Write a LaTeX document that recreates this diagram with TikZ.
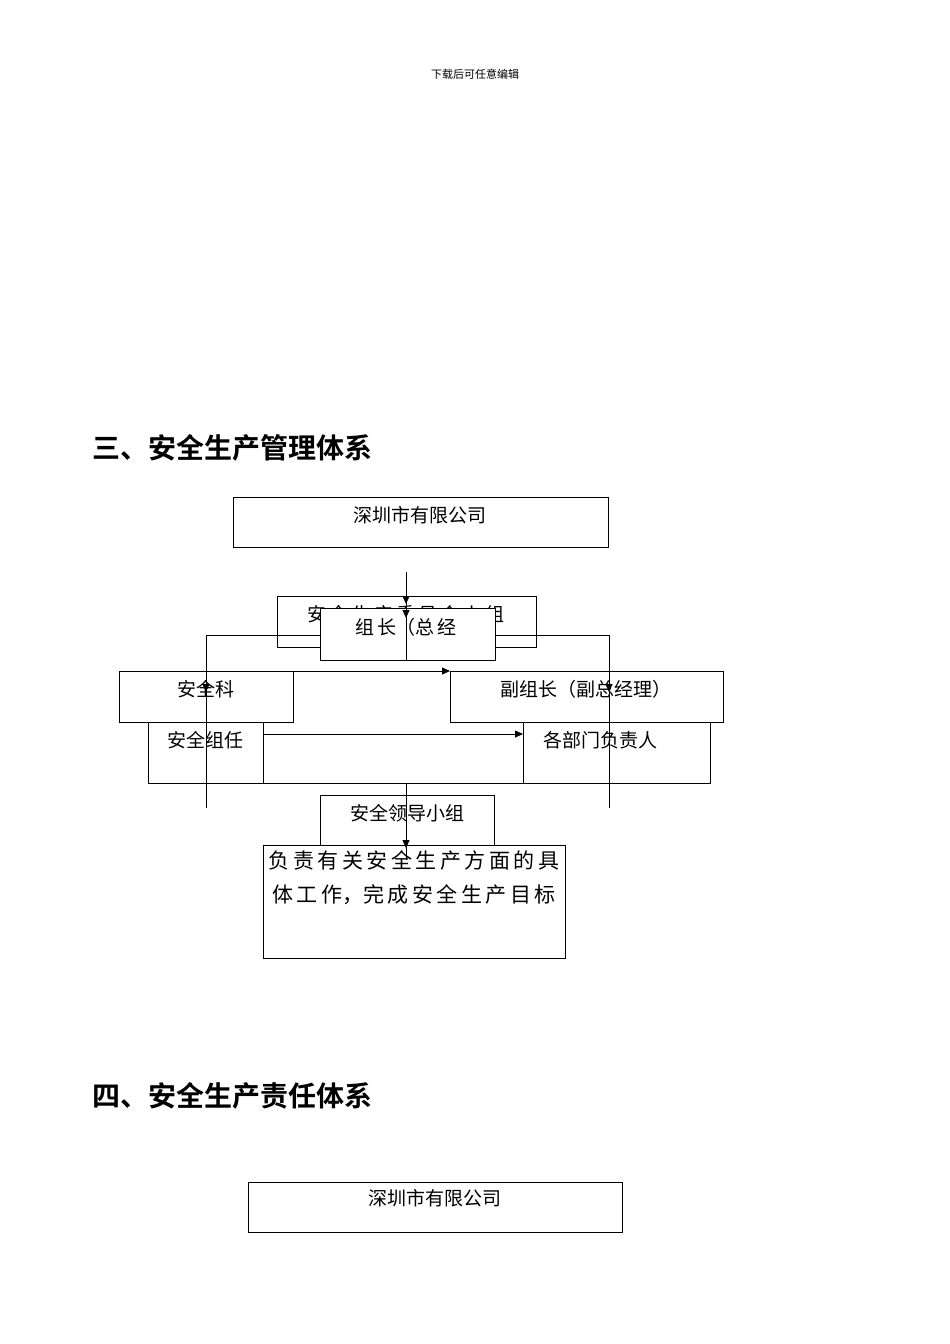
\documentclass[tikz,border=0pt]{standalone}
\usepackage{fontspec}
\setmainfont{Noto Sans CJK SC}
\newfontfamily\cjkb{Noto Sans CJK SC Bold}
\usetikzlibrary{arrows.meta}
\tikzset{x=1pt,y=-1pt,
  box/.style={draw,line width=0.8pt,fill=white,inner sep=0pt,anchor=north west},
  txt/.style={inner sep=0pt,font=\fontsize{19}{22}\selectfont},
  ttl/.style={inner sep=0pt,anchor=west,font=\cjkb\fontsize{28}{32}\selectfont},
  ln/.style={line width=0.8pt},
  arr/.style={line width=0.8pt,-{Triangle[length=8pt,width=7pt]}}}
\newcommand{\bx}[5]{\node[box,minimum width=#4pt-#2pt,minimum height=#5pt-#3pt] (#1) at (#2,#3) {};}
\begin{document}
\begin{tikzpicture}
\useasboundingbox[fill=white] (0,0) rectangle (950,1344);
\node[inner sep=0pt,font=\fontsize{11}{13}\selectfont] (hdr) at (475,74) {下载后可任意编辑};
\node[ttl] (t3) at (92,448) {三、安全生产管理体系};
\bx{company}{233}{497}{608}{547}
\node[txt] (companyt) at (420,515) {深圳市有限公司};
\bx{wyh}{277}{596}{536}{647}
\node[txt] (wyht) at (406,614) {安\,全\,生\,产\,委\,员\,会\,小\,组};
\coordinate (hl) at (206,635); \coordinate (hr) at (609,635);
\draw[ln] (hl) -- (hr);
\bx{zz}{320}{608}{495}{660}
\begin{scope}
\clip (320,608) rectangle (495,660);
\node[txt] (zzt) at (406,627) {组\,长（总\,经};
\node[txt] (zzt2) at (406,669) {理）};
\end{scope}
\bx{aqk}{119}{671}{293}{722}
\node[txt] (aqkt) at (206,689) {安全科};
\bx{fzz}{450}{671}{723}{722}
\node[txt] (fzzt) at (586,689) {副组长（副总经理）};
\draw[arr] (aqk.north east) -- (fzz.north west);
\bx{aqzr}{148}{722}{263}{783}
\node[txt] (aqzrt) at (205,740) {安全组任};
\bx{bm}{523}{722}{710}{783}
\node[txt] (bmt) at (600,740) {各部门负责人};
\draw[ln] (aqzr.south east) -- (bm.south west);
\draw[arr] (263,734) -- (523,734);
\coordinate (bl) at (206,808); \coordinate (br) at (609,808);
\draw[arr] (hl) -- (206,692); \draw[ln] (206,690) -- (bl);
\draw[arr] (hr) -- (609,692); \draw[ln] (609,690) -- (br);
\bx{ld}{320}{795}{494}{845}
\node[txt] (ldt) at (407,813) {安全领导小组};
\bx{fz}{263}{845}{565}{958}
\node[txt,align=center,font=\fontsize{21}{34}\selectfont,anchor=north] (fzt) at (414,850) {负\,责\,有\,关\,安\,全\,生\,产\,方\,面\,的\,具\\体\,工\,作，完\,成\,安\,全\,生\,产\,目\,标};
\coordinate (top) at (406,572);
\draw[arr] (top) -- (406,604);
\draw[arr] (406,603) -- (406,618);
\draw[ln] (406,617) -- (406,660);
\draw[arr] (406,783) -- (406,848);
\draw[ln] (406,847) -- (406,860);
\node[ttl] (t4) at (92,1096) {四、安全生产责任体系};
\bx{company2}{248}{1182}{622}{1232}
\node[txt] (company2t) at (435,1198) {深圳市有限公司};
\end{tikzpicture}
\end{document}
